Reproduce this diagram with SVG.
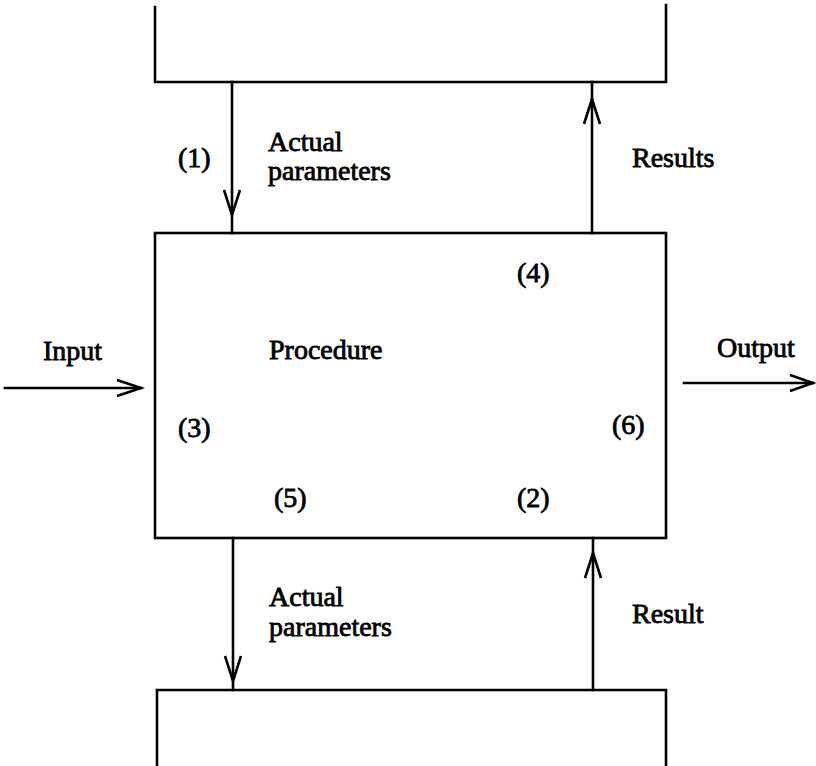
<svg xmlns="http://www.w3.org/2000/svg" width="816" height="766" viewBox="0 0 816 766">
  <style>
    .ln { fill: none; stroke: #000; stroke-width: 2.6; stroke-linecap: square; }
    .hd { fill: none; stroke: #000; stroke-width: 2.6; stroke-linejoin: miter; stroke-linecap: butt; }
    text { font-family: "Liberation Serif", "Times New Roman", serif; font-size: 28px; fill: #000; stroke: #000; stroke-width: 0.8; }
  </style>
  <rect width="816" height="766" fill="#fff"/>

  <!-- caller block above -->
  <g id="caller">
    <polyline class="ln" points="155,7 155,82 666,82 666,5"/>
  </g>

  <!-- the procedure itself -->
  <g id="procedure">
    <rect class="ln" x="155" y="233" width="511" height="305"/>
    <text x="269" y="359">Procedure</text>
    <text x="517" y="282">(4)</text>
    <text x="178" y="437">(3)</text>
    <text x="612" y="434">(6)</text>
    <text x="274" y="507">(5)</text>
    <text x="517" y="507">(2)</text>
  </g>

  <!-- called block below -->
  <g id="callee">
    <polyline class="ln" points="157,766 157,690 666,690 666,766"/>
  </g>

  <!-- data flows -->
  <g id="connectors">
    <!-- actual parameters in (1) -->
    <line class="ln" x1="232" y1="82" x2="232" y2="233"/>
    <polyline class="hd" points="224,190 232,215 240,190"/>
    <!-- results out -->
    <line class="ln" x1="592" y1="82" x2="592" y2="233"/>
    <polyline class="hd" points="584,124 592,99 600,124"/>
    <!-- input -->
    <line class="ln" x1="5" y1="388" x2="141" y2="388"/>
    <polyline class="hd" points="117,380 141,388 117,396"/>
    <!-- output -->
    <line class="ln" x1="684" y1="383" x2="813" y2="383"/>
    <polyline class="hd" points="790,375 813,383 790,391"/>
    <!-- actual parameters down -->
    <line class="ln" x1="233" y1="538" x2="233" y2="690"/>
    <polyline class="hd" points="225,656 233,681 241,656"/>
    <!-- result up -->
    <line class="ln" x1="593" y1="538" x2="593" y2="690"/>
    <polyline class="hd" points="585,578 593,553 601,578"/>
  </g>

  <!-- labels -->
  <g id="labels">
    <text x="178" y="167">(1)</text>
    <text x="268" y="151">Actual</text>
    <text x="268" y="180">parameters</text>
    <text x="632" y="167">Results</text>
    <text x="43" y="360">Input</text>
    <text x="717" y="357">Output</text>
    <text x="269" y="606">Actual</text>
    <text x="269" y="636">parameters</text>
    <text x="632" y="623">Result</text>
  </g>
</svg>
